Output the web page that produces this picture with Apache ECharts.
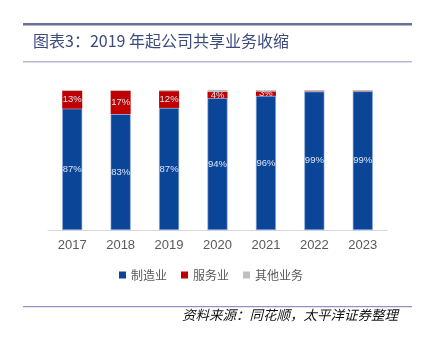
<!DOCTYPE html>
<html><head><meta charset="utf-8">
<script src="https://cdn.jsdelivr.net/npm/echarts@6/dist/echarts.min.js"></script>
<style>html,body{margin:0;padding:0;background:#fff;}#c{width:422px;height:337px;}</style>
</head><body><div id="c"></div>
<script>
const categories = ['2017','2018','2019','2020','2021','2022','2023'];
const manufacturing = [86.6, 82.8, 87.2, 94.2, 95.8, 98.8, 99.0];
const services = [12.8, 16.6, 12.0, 4.4, 3.2, 0.3, 0.2];
const others = [0.6, 0.6, 0.8, 1.4, 1.0, 0.9, 0.8];
const seriesNames = ['制造业','服务业','其他业务'];

const chart = echarts.init(document.getElementById('c'));
const lbl = (min) => ({
  show: true, position: 'inside', color: '#dbe4f3', fontSize: 9.5,
  fontFamily: '"Liberation Sans", Arial, sans-serif',
  formatter: p => p.value >= min ? Math.round(p.value) + '%' : ''
});
chart.setOption({
  animation: false,
  graphic: [
    {type:'rect', z:100, shape:{x:23,y:23,width:389,height:2.5}, style:{fill:'#6a6c9c'}},
    {type:'text', z:100, left:33, top:33, style:{text:'图表3：2019 年起公司共享业务收缩', fill:'#3c4a7c', font:'16px "Noto Sans CJK SC"'}},
    {type:'rect', z:100, shape:{x:23,y:61,width:389,height:1.5}, style:{fill:'#b9b9d3'}},
    {type:'rect', z:100, shape:{x:23,y:306,width:389,height:1.2}, style:{fill:'#9292ba'}},
    {type:'text', z:100, left:182, top:308, style:{text:'资料来源：同花顺，太平洋证券整理', fill:'#111', font:'italic 13.5px "Noto Sans CJK SC"'}}
  ],
  grid: {left:48, right:35, top:90, bottom:107},
  legend: {
    data: seriesNames, bottom: 51, left: 'center', itemWidth: 7, itemHeight: 7, itemGap: 14,
    textStyle: {color:'#595959', fontSize: 12, fontFamily:'Noto Sans CJK SC'},
    icon: 'rect', itemStyle: {borderWidth: 0}
  },
  xAxis: {
    type:'category', data: categories,
    axisLine:{lineStyle:{color:'#d9d9d9', width:1}}, axisTick:{show:false},
    axisLabel:{color:'#595959', fontSize:13, margin:9, fontFamily:'Liberation Sans, Arial, sans-serif'}
  },
  yAxis: {type:'value', min:0, max:100, show:false, splitLine:{show:false}},
  series: [
    {name:seriesNames[0], type:'bar', stack:'a', data: manufacturing, barWidth: 20,
     itemStyle:{color:'#0a4598', borderColor:'#8eaee0', borderWidth:0.6}, label: lbl(2)},
    {name:seriesNames[1], type:'bar', stack:'a', data: services,
     itemStyle:{color:'#c00000'}, label: lbl(2.5)},
    {name:seriesNames[2], type:'bar', stack:'a', data: others,
     itemStyle:{color:'#bfbfbf'}, label:{show:false}}
  ]
});
</script></body></html>
